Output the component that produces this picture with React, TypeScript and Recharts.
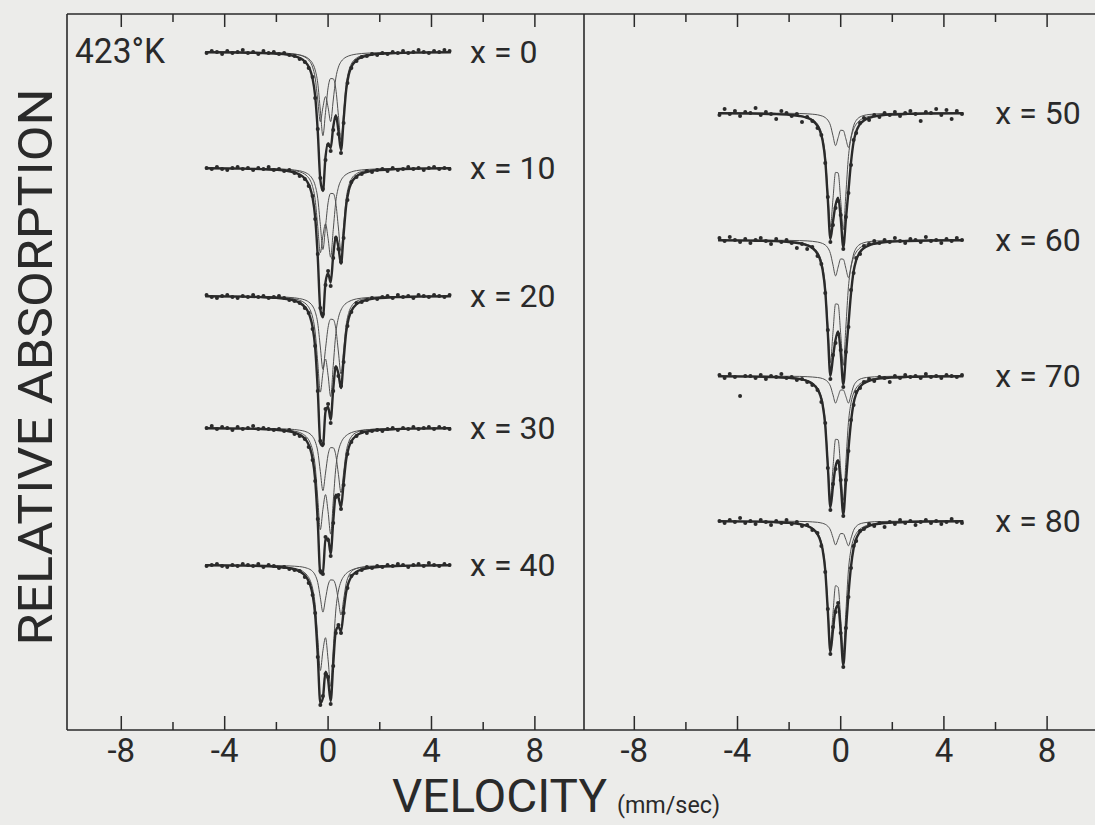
import { ComposedChart, Line, Scatter, XAxis, YAxis, ReferenceDot } from "recharts";

// velocity grid (mm/sec) used for the fitted curves
const fitVelocity = [-4.75, -3.5, -2.6, -2.0, -1.6, -1.3, -1.1, -0.9, -0.8, -0.7, -0.6, -0.5, -0.4, -0.3, -0.2, -0.1, 0, 0.1, 0.2, 0.3, 0.4, 0.5, 0.6, 0.7, 0.8, 0.9, 1.1, 1.3, 1.6, 2.0, 2.6, 3.5, 4.75];

// velocity of the measured channels
const countVelocity = [-4.7, -4.5, -4.3, -4.1, -3.9, -3.7, -3.5, -3.3, -3.1, -2.9, -2.7, -2.5, -2.3, -2.1, -1.9, -1.7, -1.5, -1.3, -1.1, -0.9, -0.75, -0.6, -0.5, -0.4, -0.3, -0.2, -0.1, 0, 0.1, 0.2, 0.3, 0.4, 0.5, 0.6, 0.75, 0.9, 1.1, 1.3, 1.5, 1.7, 1.9, 2.1, 2.3, 2.5, 2.7, 2.9, 3.1, 3.3, 3.5, 3.7, 3.9, 4.1, 4.3, 4.5, 4.7];

const tickValues = [-8, -6, -4, -2, 0, 2, 4, 6, 8];

// x = 0
const x0Fit = [0.3, 0.5, 1.0, 1.7, 2.6, 4.1, 6.0, 9.5, 12.6, 17.6, 26.5, 43.9, 79.1, 127.9, 139.0, 105.0, 91.1, 96.1, 74.8, 63.2, 78.6, 98.2, 68.3, 37.8, 22.7, 15.1, 8.1, 5.2, 3.1, 1.8, 1.1, 0.6, 0.3];
const x0Sub1 = [0.1, 0.2, 0.5, 0.8, 1.3, 2.1, 3.1, 5.0, 6.8, 9.7, 15.1, 26.0, 48.0, 69.6, 55.3, 44.6, 55.3, 69.6, 48.0, 26.0, 15.1, 9.7, 6.8, 5.0, 3.9, 3.1, 2.1, 1.5, 1.0, 0.6, 0.4, 0.2, 0.1];
const x0Sub2 = [0.2, 0.3, 0.5, 0.9, 1.3, 2.1, 2.9, 4.5, 5.8, 7.9, 11.4, 17.9, 31.1, 58.3, 83.7, 60.4, 35.8, 26.5, 26.8, 37.2, 63.5, 88.5, 61.5, 32.8, 18.8, 12.0, 6.1, 3.7, 2.1, 1.2, 0.7, 0.3, 0.2];
const x0Counts = [1, -1, 0, 2, -1, 1, 0, -2, 1, 0, 2, -1, 1, 0, 2, 1, 3, 4, 7, 10, 16, 25, 46, 77, 126, 137, 108, 93, 99, 78, 66, 82, 101, 71, 31, 16, 9, 5, 4, 2, 3, 1, 2, 0, 1, -1, 1, 0, -2, 0, 1, -1, 0, -2, -1];

// x = 10
const x10Fit = [0.3, 0.6, 1.1, 1.8, 2.9, 4.5, 6.6, 10.5, 14.0, 19.5, 29.6, 49.1, 88.8, 141.5, 149.4, 114.5, 105.1, 114.6, 87.2, 68.4, 79.3, 95.8, 66.6, 37.3, 22.6, 15.1, 8.3, 5.4, 3.3, 2.0, 1.1, 0.6, 0.3];
const x10Sub1 = [0.2, 0.3, 0.6, 1.0, 1.6, 2.6, 3.8, 6.2, 8.4, 11.9, 18.5, 31.7, 58.5, 84.8, 67.9, 55.8, 70.4, 89.2, 61.6, 33.2, 19.3, 12.4, 8.6, 6.4, 4.9, 3.9, 2.6, 1.9, 1.3, 0.8, 0.5, 0.3, 0.2];
const x10Sub2 = [0.2, 0.3, 0.5, 0.8, 1.3, 2.0, 2.8, 4.3, 5.6, 7.6, 11.1, 17.4, 30.3, 56.7, 81.5, 58.7, 34.7, 25.4, 25.6, 35.2, 60.0, 83.4, 58.0, 30.9, 17.7, 11.2, 5.7, 3.5, 2.0, 1.2, 0.6, 0.3, 0.2];
const x10Counts = [0, 1, -1, 1, 2, 0, -1, 1, 0, 2, 0, 1, -1, 2, 1, 3, 2, 5, 8, 11, 18, 28, 51, 86, 140, 146, 117, 103, 118, 90, 70, 81, 94, 70, 32, 14, 9, 6, 3, 4, 2, 1, 3, 0, 2, 1, -1, 1, 0, 2, 0, -1, 1, 0, 1];

// x = 20
const x20Fit = [0.3, 0.6, 1.1, 1.9, 3.0, 4.7, 6.8, 10.9, 14.5, 20.6, 31.0, 51.6, 93.4, 147.1, 150.1, 115.8, 110.7, 123.7, 92.9, 70.2, 77.7, 92.1, 64.0, 36.1, 22.1, 14.9, 8.2, 5.4, 3.3, 2.0, 1.1, 0.6, 0.3];
const x20Sub1 = [0.2, 0.3, 0.6, 1.1, 1.8, 2.9, 4.3, 7.0, 9.4, 13.6, 21.0, 35.9, 66.2, 96.1, 76.8, 63.0, 79.3, 100.5, 69.3, 37.4, 21.7, 14.0, 9.7, 7.2, 5.6, 4.4, 2.9, 2.1, 1.4, 0.9, 0.6, 0.3, 0.2];
const x20Sub2 = [0.1, 0.2, 0.4, 0.8, 1.2, 1.8, 2.6, 3.9, 5.1, 7.0, 10.0, 15.7, 27.2, 51.0, 73.3, 52.8, 31.4, 23.2, 23.6, 32.8, 56.0, 78.1, 54.3, 28.9, 16.5, 10.5, 5.3, 3.3, 1.9, 1.1, 0.6, 0.3, 0.2];
const x20Counts = [-1, 1, 2, 0, -1, 1, 2, 0, 1, -1, 1, 0, 2, 1, 0, 2, 4, 5, 7, 12, 17, 33, 50, 95, 145, 148, 113, 108, 127, 95, 72, 80, 90, 66, 30, 16, 7, 6, 4, 2, 3, 1, 0, 2, -1, 1, 0, 2, -1, 0, 1, -1, 0, 1, -1];

// x = 30
const x30Fit = [0.3, 0.6, 1.0, 1.8, 2.9, 4.6, 6.7, 10.7, 14.3, 20.2, 30.7, 51.4, 93.4, 145.3, 144.0, 111.7, 110.4, 125.7, 92.9, 66.8, 69.4, 79.4, 55.1, 31.5, 19.5, 13.3, 7.5, 4.9, 3.0, 1.9, 1.1, 0.6, 0.3];
const x30Sub1 = [0.2, 0.4, 0.7, 1.2, 1.9, 3.1, 4.5, 7.4, 10.0, 14.3, 22.2, 38.0, 70.1, 101.7, 81.3, 66.6, 83.7, 106.1, 73.1, 39.5, 23.0, 14.8, 10.2, 7.6, 5.8, 4.6, 3.1, 2.2, 1.5, 1.0, 0.6, 0.3, 0.2];
const x30Sub2 = [0.1, 0.2, 0.4, 0.6, 1.0, 1.5, 2.2, 3.3, 4.3, 5.9, 8.5, 13.4, 23.3, 43.6, 62.7, 45.1, 26.7, 19.6, 19.8, 27.3, 46.4, 64.6, 44.9, 23.9, 13.7, 8.7, 4.4, 2.7, 1.5, 0.9, 0.5, 0.3, 0.1];
const x30Counts = [0, -2, 1, -1, 0, 2, -1, 1, 0, -2, 1, 0, 1, 2, 1, 3, 2, 6, 8, 11, 19, 32, 53, 91, 143, 146, 109, 112, 128, 95, 69, 67, 81, 57, 26, 14, 8, 4, 5, 3, 2, 3, 1, 0, 2, 0, 1, -1, 1, 0, -1, 1, -1, 0, 1];

// x = 40
const x40Fit = [0.3, 0.6, 1.0, 1.8, 2.8, 4.4, 6.4, 10.3, 13.9, 19.4, 29.6, 49.7, 90.3, 138.2, 132.8, 106.6, 114.7, 136.2, 98.8, 66.0, 61.8, 66.6, 46.3, 27.0, 17.1, 11.8, 6.8, 4.6, 2.9, 1.8, 1.0, 0.6, 0.3];
const x40Sub1 = [0.2, 0.4, 0.7, 1.3, 2.1, 3.3, 4.8, 7.8, 10.6, 15.0, 23.2, 39.6, 72.8, 105.5, 85.7, 72.7, 94.5, 121.3, 83.7, 45.0, 26.0, 16.6, 11.6, 8.5, 6.5, 5.1, 3.4, 2.5, 1.7, 1.1, 0.7, 0.4, 0.2];
const x40Sub2 = [0.1, 0.2, 0.3, 0.5, 0.8, 1.2, 1.6, 2.5, 3.3, 4.4, 6.4, 10.1, 17.5, 32.7, 47.1, 33.9, 20.2, 14.9, 15.1, 21.0, 35.8, 50.0, 34.7, 18.5, 10.6, 6.7, 3.4, 2.1, 1.2, 0.7, 0.4, 0.2, 0.1];
const x40Counts = [1, 0, -1, 1, 2, 0, 1, -1, 0, 1, -1, 2, 0, 1, 3, 2, 4, 5, 6, 12, 18, 30, 48, 92, 140, 131, 109, 112, 139, 101, 68, 60, 68, 48, 23, 11, 8, 5, 2, 3, 1, 2, 0, 1, -1, 0, 2, 0, -1, 1, -2, 0, 1, -1, 0];

// x = 50
const x50Fit = [0.3, 0.5, 1.0, 1.8, 3.0, 4.9, 7.4, 12.9, 18.2, 27.9, 47.1, 86.2, 126.1, 108.7, 92.0, 84.6, 104.8, 134.2, 106.7, 78.0, 49.1, 28.9, 18.6, 13.0, 9.6, 7.5, 4.9, 3.5, 2.3, 1.5, 0.9, 0.5, 0.3];
const x50Sub1 = [0.2, 0.4, 0.8, 1.5, 2.5, 4.1, 6.3, 11.1, 15.8, 24.7, 42.5, 79.1, 113.9, 86.0, 59.4, 59.9, 87.6, 116.7, 80.9, 43.5, 25.2, 16.1, 11.2, 8.3, 6.3, 5.1, 3.4, 2.5, 1.7, 1.1, 0.7, 0.4, 0.2];
const x50Sub2 = [0.1, 0.1, 0.2, 0.3, 0.5, 0.8, 1.2, 1.8, 2.4, 3.2, 4.6, 7.1, 12.2, 22.7, 32.6, 24.7, 17.2, 17.5, 25.8, 34.5, 23.9, 12.8, 7.4, 4.7, 3.3, 2.4, 1.5, 1.0, 0.6, 0.4, 0.2, 0.1, 0.1];
const x50Counts = [2, -4, 1, -2, 3, -1, 0, -5, 2, -1, 1, 6, -2, 0, 3, 1, 9, 4, 8, 15, 22, 50, 84, 129, 112, 95, 88, 102, 136, 104, 80, 52, 27, 20, 10, 5, 7, 2, 4, 0, 2, -1, 3, 0, -2, 1, 8, -1, 0, -4, 2, -3, 6, -2, 1];

// x = 60
const x60Fit = [0.3, 0.6, 1.1, 2.0, 3.2, 5.3, 8.0, 13.9, 19.6, 30.0, 50.8, 92.8, 136.0, 117.4, 99.8, 91.5, 113.1, 144.5, 115.2, 84.5, 53.1, 31.3, 20.2, 14.1, 10.4, 8.1, 5.3, 3.8, 2.5, 1.6, 1.0, 0.5, 0.3];
const x60Sub1 = [0.3, 0.5, 0.9, 1.6, 2.6, 4.4, 6.8, 11.9, 17.0, 26.5, 45.8, 85.0, 122.6, 92.5, 63.9, 64.4, 94.2, 125.3, 86.9, 46.8, 27.0, 17.3, 12.1, 8.9, 6.8, 5.4, 3.7, 2.7, 1.8, 1.2, 0.7, 0.4, 0.2];
const x60Sub2 = [0.1, 0.1, 0.2, 0.4, 0.6, 0.9, 1.3, 2.0, 2.6, 3.5, 5.0, 7.8, 13.4, 24.9, 35.9, 27.1, 18.9, 19.2, 28.3, 37.7, 26.1, 14.0, 8.1, 5.2, 3.6, 2.7, 1.6, 1.1, 0.7, 0.4, 0.3, 0.1, 0.1];
const x60Counts = [-2, 1, -3, 0, 2, -1, 3, 0, -2, 1, 4, -1, 2, 0, 3, 8, 4, 9, 7, 16, 24, 53, 90, 139, 115, 103, 94, 110, 147, 112, 87, 50, 33, 18, 14, 6, 4, 1, 3, 0, 2, -2, 1, 3, -1, 0, 2, -3, 1, 0, 3, -1, 1, -2, 0];

// x = 70
const x70Fit = [0.3, 0.6, 1.1, 1.8, 3.0, 5.0, 7.7, 13.3, 18.8, 28.9, 49.1, 90.2, 131.6, 110.4, 90.4, 84.2, 107.4, 138.3, 106.6, 73.4, 45.6, 27.2, 17.9, 12.6, 9.4, 7.3, 4.8, 3.4, 2.3, 1.5, 0.9, 0.5, 0.3];
const x70Sub1 = [0.3, 0.5, 0.9, 1.6, 2.6, 4.3, 6.7, 11.8, 16.9, 26.3, 45.3, 84.3, 121.5, 91.6, 63.3, 63.8, 93.4, 124.3, 86.2, 46.3, 26.8, 17.1, 12.0, 8.8, 6.8, 5.4, 3.6, 2.6, 1.8, 1.2, 0.7, 0.4, 0.2];
const x70Sub2 = [0.1, 0.1, 0.2, 0.3, 0.4, 0.7, 1.0, 1.5, 1.9, 2.6, 3.8, 5.9, 10.1, 18.8, 27.1, 20.4, 14.0, 14.0, 20.4, 27.1, 18.8, 10.1, 5.9, 3.8, 2.6, 1.9, 1.2, 0.8, 0.5, 0.3, 0.2, 0.1, 0.1];
const x70Counts = [-1, 2, -2, 1, 20, 0, 0, 2, -1, 3, 0, 1, -2, 2, 1, 4, 3, 6, 9, 14, 26, 47, 92, 134, 108, 93, 86, 104, 140, 104, 75, 44, 29, 16, 12, 6, 3, 5, 1, 2, 6, 0, 2, -1, 1, 0, 2, -2, 1, 0, 2, -1, 0, 1, -1];

// x = 80
const x80Fit = [0.3, 0.6, 1.1, 1.9, 3.0, 5.0, 7.6, 13.2, 18.8, 28.9, 49.0, 89.9, 131.0, 109.1, 88.6, 84.3, 110.7, 144.0, 109.6, 73.6, 45.4, 27.3, 18.0, 12.6, 9.5, 7.4, 4.9, 3.4, 2.3, 1.5, 0.9, 0.5, 0.3];
const x80Sub1 = [0.3, 0.5, 0.9, 1.6, 2.7, 4.4, 6.8, 11.9, 17.1, 26.6, 45.7, 84.7, 122.1, 92.5, 64.7, 66.3, 98.2, 131.3, 91.0, 48.8, 28.2, 18.0, 12.6, 9.2, 7.1, 5.6, 3.8, 2.7, 1.8, 1.2, 0.7, 0.4, 0.2];
const x80Sub2 = [0.0, 0.1, 0.2, 0.3, 0.4, 0.6, 0.9, 1.3, 1.7, 2.3, 3.3, 5.2, 8.9, 16.6, 23.9, 18.0, 12.5, 12.7, 18.6, 24.8, 17.2, 9.3, 5.4, 3.4, 2.4, 1.8, 1.1, 0.7, 0.5, 0.3, 0.2, 0.1, 0.1];
const x80Counts = [0, 2, -1, 1, -3, 2, 0, 3, -1, 1, 4, 0, 2, -1, 3, 1, 5, 4, 9, 12, 25, 51, 88, 133, 106, 91, 82, 112, 146, 107, 76, 47, 25, 20, 10, 8, 3, 5, 2, 6, 1, 3, -1, 2, 0, 4, 1, -1, 2, 0, 3, 1, -2, 1, 2];

const ink = "#2a2a2a";
const font = "Roboto, 'DejaVu Sans', sans-serif";
const axisStyle = { stroke: ink, strokeWidth: 1.6 };

type Spectrum = {
  label: string;
  offset: number; // vertical stacking offset of the spectrum
  fit: number[];
  sub1: number[];
  sub2: number[];
  counts: number[];
};

const leftSpectra: Spectrum[] = [
  { label: "x = 0", offset: 38, fit: x0Fit, sub1: x0Sub1, sub2: x0Sub2, counts: x0Counts },
  { label: "x = 10", offset: 154, fit: x10Fit, sub1: x10Sub1, sub2: x10Sub2, counts: x10Counts },
  { label: "x = 20", offset: 282, fit: x20Fit, sub1: x20Sub1, sub2: x20Sub2, counts: x20Counts },
  { label: "x = 30", offset: 414, fit: x30Fit, sub1: x30Sub1, sub2: x30Sub2, counts: x30Counts },
  { label: "x = 40", offset: 551, fit: x40Fit, sub1: x40Sub1, sub2: x40Sub2, counts: x40Counts },
];

const rightSpectra: Spectrum[] = [
  { label: "x = 50", offset: 99, fit: x50Fit, sub1: x50Sub1, sub2: x50Sub2, counts: x50Counts },
  { label: "x = 60", offset: 226, fit: x60Fit, sub1: x60Sub1, sub2: x60Sub2, counts: x60Counts },
  { label: "x = 70", offset: 362, fit: x70Fit, sub1: x70Sub1, sub2: x70Sub2, counts: x70Counts },
  { label: "x = 80", offset: 507, fit: x80Fit, sub1: x80Sub1, sub2: x80Sub2, counts: x80Counts },
];

const toPoints = (vs: number[], ys: number[], offset: number) =>
  vs.map((v, i) => ({ v, y: offset + ys[i] }));

function BottomTick(props: any) {
  const { x, y, payload } = props;
  const major = payload.value % 4 === 0;
  return (
    <g>
      <line x1={x} y1={y} x2={x} y2={y - (major ? 14 : 8)} stroke={ink} strokeWidth={1.5} />
      {major && (
        <text x={x} y={y + 32} textAnchor="middle" fontSize={33} fontFamily={font} fill={ink}>
          {payload.value}
        </text>
      )}
    </g>
  );
}

function TopTick(props: any) {
  const { x, y, payload } = props;
  const major = payload.value % 4 === 0;
  return <line x1={x} y1={y} x2={x} y2={y + (major ? 13 : 8)} stroke={ink} strokeWidth={1.5} />;
}

const dotShape = (p: any) => <circle cx={p.cx} cy={p.cy} r={2} fill={ink} />;

function SpectraPanel({
  spectra,
  width,
  left,
  right,
  domain,
  labelV,
}: {
  spectra: Spectrum[];
  width: number;
  left: number;
  right: number;
  domain: [number, number];
  labelV: number;
}) {
  const layers = spectra.map((s) => ({
    label: s.label,
    offset: s.offset,
    fit: toPoints(fitVelocity, s.fit, s.offset),
    sub1: toPoints(fitVelocity, s.sub1, s.offset),
    sub2: toPoints(fitVelocity, s.sub2, s.offset),
    counts: toPoints(countVelocity, s.counts, s.offset),
  }));

  return (
    <ComposedChart width={width} height={825} margin={{ top: 13, right, bottom: 55, left }}>
      <XAxis
        xAxisId="v"
        dataKey="v"
        type="number"
        domain={domain}
        ticks={tickValues}
        interval={0}
        height={40}
        tickSize={0}
        tickMargin={0}
        tickLine={false}
        axisLine={axisStyle}
        tick={(p: any) => <BottomTick {...p} />}
        allowDataOverflow
      />
      <XAxis
        xAxisId="top"
        orientation="top"
        dataKey="v"
        type="number"
        domain={domain}
        ticks={tickValues}
        interval={0}
        height={1}
        tickSize={0}
        tickMargin={0}
        tickLine={false}
        axisLine={axisStyle}
        tick={(p: any) => <TopTick {...p} />}
        allowDataOverflow
      />
      <YAxis
        dataKey="y"
        type="number"
        domain={[0, 716]}
        reversed
        width={1}
        tick={false}
        tickLine={false}
        axisLine={axisStyle}
        allowDataOverflow
      />
      {layers.map((s) => (
        <Line key={s.label + "-1"} xAxisId="v" data={s.sub1} dataKey="y" type="monotone" dot={false} activeDot={false} stroke="#505050" strokeWidth={1} isAnimationActive={false} />
      ))}
      {layers.map((s) => (
        <Line key={s.label + "-2"} xAxisId="v" data={s.sub2} dataKey="y" type="monotone" dot={false} activeDot={false} stroke="#505050" strokeWidth={1} isAnimationActive={false} />
      ))}
      {layers.map((s) => (
        <Line key={s.label + "-fit"} xAxisId="v" data={s.fit} dataKey="y" type="monotone" dot={false} activeDot={false} stroke={ink} strokeWidth={2.4} isAnimationActive={false} />
      ))}
      {layers.map((s) => (
        <Scatter key={s.label + "-pts"} xAxisId="v" data={s.counts} dataKey="y" shape={dotShape} isAnimationActive={false} />
      ))}
      {layers.map((s) => (
        <ReferenceDot
          key={s.label + "-lbl"}
          xAxisId="v"
          x={labelV}
          y={s.offset}
          r={0}
          fill="none"
          stroke="none"
          label={{ value: s.label, position: "right", fill: ink, fontSize: 32, fontFamily: font }}
        />
      ))}
    </ComposedChart>
  );
}

export default function App() {
  return (
    <div style={{ position: "absolute", left: 0, top: 0, width: 1095, height: 825, overflow: "hidden", background: "#ececea" }}>
      <div style={{ position: "absolute", left: 0, top: 0 }}>
        <SpectraPanel spectra={leftSpectra} width={600} left={66} right={16} domain={[-10.1, 9.9]} labelV={5.3} />
      </div>
      <div style={{ position: "absolute", left: 520, top: 0 }}>
        <SpectraPanel spectra={rightSpectra} width={600} left={63} right={20} domain={[-9.95, 10.05]} labelV={5.8} />
      </div>
      <svg width={1095} height={825} style={{ position: "absolute", left: 0, top: 0, pointerEvents: "none" }}>
        <text x={75} y={63} fontSize={35} fontFamily={font} fill={ink} textLength={90} lengthAdjust="spacingAndGlyphs">
          423°K
        </text>
        <text
          transform="translate(52, 367) rotate(-90)"
          textAnchor="middle"
          fontSize={49}
          fontFamily={font}
          fill={ink}
          textLength={557}
          lengthAdjust="spacingAndGlyphs"
        >
          RELATIVE ABSORPTION
        </text>
        <text x={392} y={812} fontSize={46} fontFamily={font} fill={ink} textLength={215} lengthAdjust="spacingAndGlyphs">
          VELOCITY
        </text>
        <text x={617} y={813} fontSize={24} fontFamily={font} fill={ink} textLength={103} lengthAdjust="spacingAndGlyphs">
          (mm/sec)
        </text>
      </svg>
    </div>
  );
}
